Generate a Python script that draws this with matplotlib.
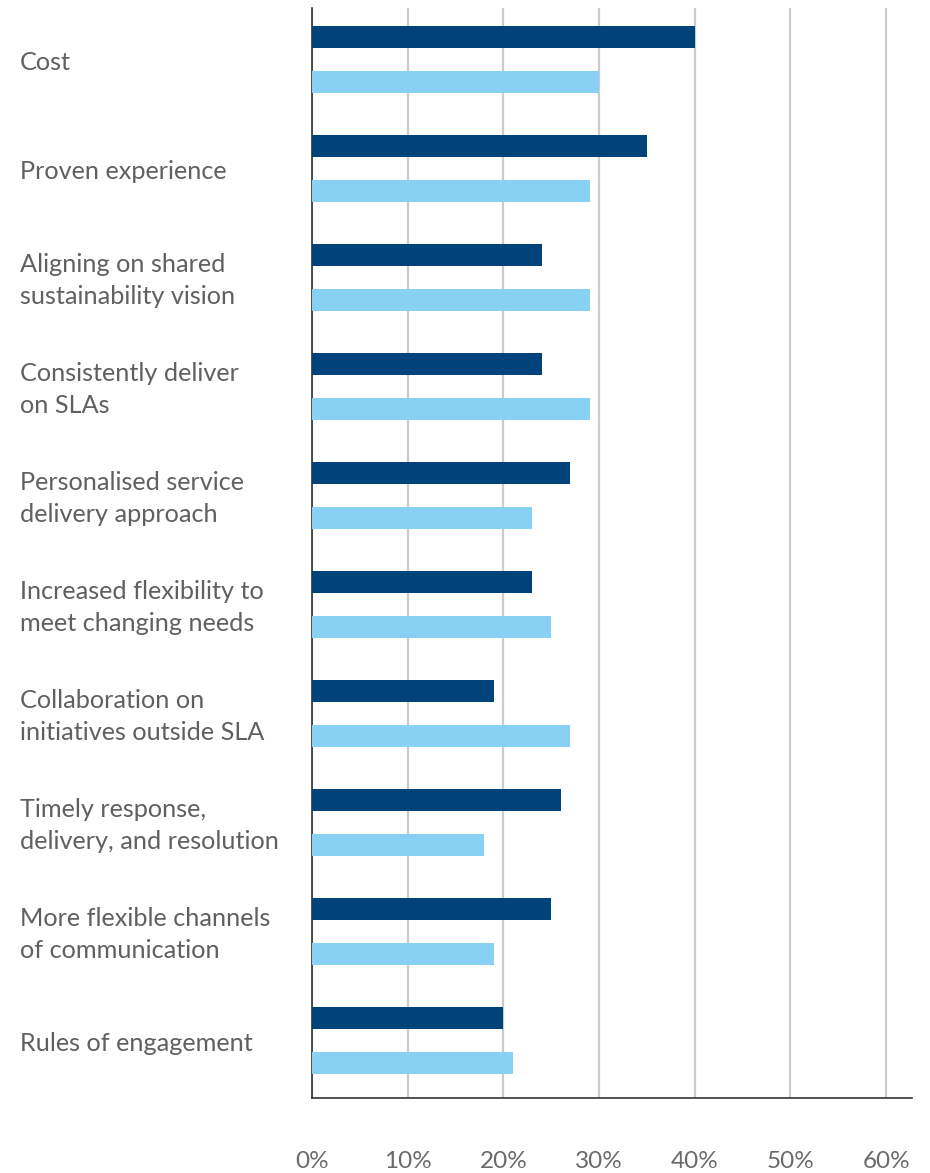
import numpy as np
import matplotlib.pyplot as plt
import matplotlib.transforms as mtransforms

plt.rcParams['font.family'] = ['Lato', 'DejaVu Sans']

# data (%)
categories = ['Cost', 'Proven experience', 'Aligning on shared\nsustainability vision',
              'Consistently deliver\non SLAs', 'Personalised service\ndelivery approach',
              'Increased flexibility to\nmeet changing needs',
              'Collaboration on\ninitiatives outside SLA',
              'Timely response,\ndelivery, and resolution',
              'More flexible channels\nof communication', 'Rules of engagement']
series_dark = [40, 35, 24, 24, 27, 23, 19, 26, 25, 20]
series_light = [30, 29, 29, 29, 23, 25, 27, 18, 19, 21]
xticks = [0, 10, 20, 30, 40, 50, 60]
xtick_labels = ['0%', '10%', '20%', '30%', '40%', '50%', '60%']

DARK = '#00437a'
LIGHT = '#89d0f5'

fig = plt.figure(figsize=(9.3, 11.73), dpi=100)
ax = fig.add_axes([312/930, 1 - 1098/1173, 600/930, 1090/1173])

y = np.arange(len(categories))
ax.barh(y - 0.235, series_dark, height=0.2, color=DARK, zorder=3)
ax.barh(y + 0.178, series_light, height=0.2, color=LIGHT, zorder=3)

ax.set_ylim(len(categories) - 0.5, -0.5)
ax.set_xlim(0, 62.7)
ax.set_xticks(xticks)
ax.set_xticklabels(xtick_labels, fontsize=17.5, color='#6a6a6a')
ax.tick_params(axis='x', length=0, pad=38)
ax.set_yticks([])
ax.grid(axis='x', color='#cccccc', linewidth=1.6, zorder=0)

for s in ['top', 'right']:
    ax.spines[s].set_visible(False)
for s in ['left', 'bottom']:
    ax.spines[s].set_color('#333333')
    ax.spines[s].set_linewidth(1.2)

trans = mtransforms.blended_transform_factory(fig.transFigure, ax.transData)
for i, c in enumerate(categories):
    ax.text(20/930, i, c, transform=trans, ha='left', va='center',
            fontsize=18.2, color='#606060', linespacing=1.5)

plt.savefig('out.png', dpi=100)
